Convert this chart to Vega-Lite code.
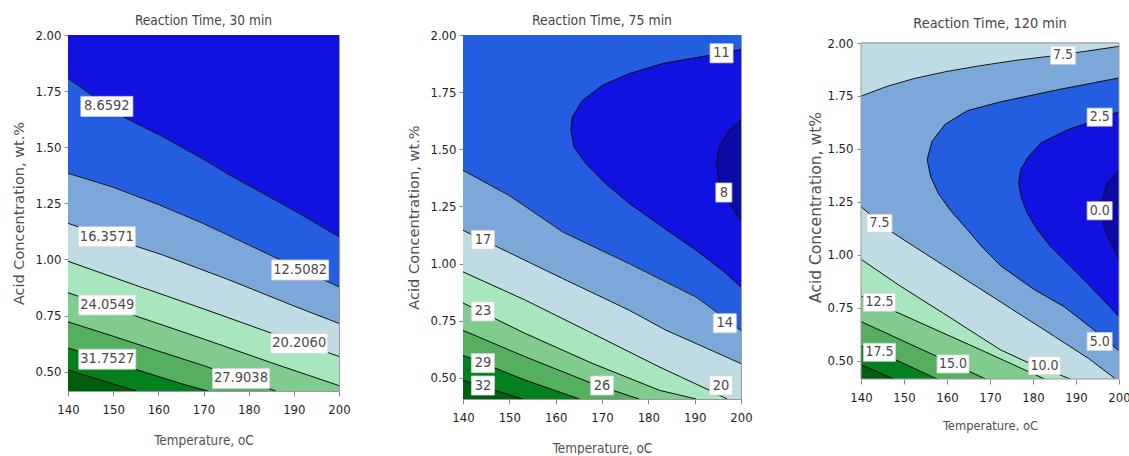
{
"$schema": "https://vega.github.io/schema/vega-lite/v6.json",
"background": "white",
"padding": {"left": 11, "top": 13, "right": 0, "bottom": 0},
"spacing": 55,
"resolve": {"scale": {"x": "independent", "y": "independent"}},
"config": {
  "view": {"stroke": "#9a9a9a", "strokeWidth": 1},
  "axis": {"grid": false, "domain": false, "tickColor": "#888", "labelFont": "DejaVu Sans Condensed", "labelFontSize": 13, "labelColor": "#1e1e1e", "titleColor": "#505050", "titleFontWeight": "normal"},
  "axisX": {"tickSize": 5, "labelPadding": 7, "labelFlush": false, "titleFont": "DejaVu Sans Condensed", "titleFontSize": 13.4},
  "axisY": {"tickSize": 4, "labelPadding": 3, "titleFont": "DejaVu Sans", "titleFontSize": 14.5, "titlePadding": 8},
  "title": {"font": "DejaVu Sans Condensed", "fontSize": 13.6, "fontWeight": "normal", "color": "#454545", "anchor": "middle"}
},
"datasets": {
  "p1": [
    {"g":"a0","b":"b1","i":0,"x":140,"y":0.414,"c":0},{"g":"a0","b":"b1","i":1,"x":200,"y":0.414,"c":0},{"g":"a0","b":"b1","i":2,"x":200,"y":2,"c":0},{"g":"a0","b":"b1","i":3,"x":140,"y":2,"c":0},
    {"g":"a1","b":"b2","i":0,"x":140,"y":1.807,"c":1},{"g":"a1","b":"b2","i":1,"x":146,"y":1.722,"c":1},{"g":"a1","b":"b2","i":2,"x":152.2,"y":1.636,"c":1},{"g":"a1","b":"b2","i":3,"x":161,"y":1.547,"c":1},{"g":"a1","b":"b2","i":4,"x":168.4,"y":1.465,"c":1},{"g":"a1","b":"b2","i":5,"x":175.8,"y":1.376,"c":1},{"g":"a1","b":"b2","i":6,"x":183.1,"y":1.295,"c":1},{"g":"a1","b":"b2","i":7,"x":190.5,"y":1.213,"c":1},{"g":"a1","b":"b2","i":8,"x":200,"y":1.101,"c":1},{"g":"a1","b":"b2","i":9,"x":200,"y":0.414,"c":0},{"g":"a1","b":"b2","i":10,"x":140,"y":0.414,"c":0},
    {"g":"a2","b":"b3","i":0,"x":140,"y":1.384,"c":1},{"g":"a2","b":"b3","i":1,"x":150,"y":1.322,"c":1},{"g":"a2","b":"b3","i":2,"x":160,"y":1.245,"c":1},{"g":"a2","b":"b3","i":3,"x":170,"y":1.16,"c":1},{"g":"a2","b":"b3","i":4,"x":180,"y":1.065,"c":1},{"g":"a2","b":"b3","i":5,"x":190,"y":0.97,"c":1},{"g":"a2","b":"b3","i":6,"x":200,"y":0.878,"c":1},{"g":"a2","b":"b3","i":7,"x":200,"y":0.414,"c":0},{"g":"a2","b":"b3","i":8,"x":140,"y":0.414,"c":0},
    {"g":"a3","b":"b4","i":0,"x":140,"y":1.161,"c":1},{"g":"a3","b":"b4","i":1,"x":150,"y":1.092,"c":1},{"g":"a3","b":"b4","i":2,"x":161,"y":1.02,"c":1},{"g":"a3","b":"b4","i":3,"x":175.8,"y":0.908,"c":1},{"g":"a3","b":"b4","i":4,"x":190.5,"y":0.789,"c":1},{"g":"a3","b":"b4","i":5,"x":200,"y":0.715,"c":1},{"g":"a3","b":"b4","i":6,"x":200,"y":0.414,"c":0},{"g":"a3","b":"b4","i":7,"x":140,"y":0.414,"c":0},
    {"g":"a4","b":"b5","i":0,"x":140,"y":0.992,"c":1},{"g":"a4","b":"b5","i":1,"x":155,"y":0.885,"c":1},{"g":"a4","b":"b5","i":2,"x":170,"y":0.78,"c":1},{"g":"a4","b":"b5","i":3,"x":185,"y":0.672,"c":1},{"g":"a4","b":"b5","i":4,"x":200,"y":0.568,"c":1},{"g":"a4","b":"b5","i":5,"x":200,"y":0.414,"c":0},{"g":"a4","b":"b5","i":6,"x":140,"y":0.414,"c":0},
    {"g":"a5","b":"b6","i":0,"x":140,"y":0.852,"c":1},{"g":"a5","b":"b6","i":1,"x":155,"y":0.748,"c":1},{"g":"a5","b":"b6","i":2,"x":170,"y":0.646,"c":1},{"g":"a5","b":"b6","i":3,"x":185,"y":0.54,"c":1},{"g":"a5","b":"b6","i":4,"x":200,"y":0.438,"c":1},{"g":"a5","b":"b6","i":5,"x":200,"y":0.414,"c":0},{"g":"a5","b":"b6","i":6,"x":140,"y":0.414,"c":0},
    {"g":"a6","b":"b7","i":0,"x":140,"y":0.722,"c":1},{"g":"a6","b":"b7","i":1,"x":150,"y":0.658,"c":1},{"g":"a6","b":"b7","i":2,"x":160,"y":0.592,"c":1},{"g":"a6","b":"b7","i":3,"x":170,"y":0.527,"c":1},{"g":"a6","b":"b7","i":4,"x":180,"y":0.457,"c":1},{"g":"a6","b":"b7","i":5,"x":186,"y":0.414,"c":1},{"g":"a6","b":"b7","i":6,"x":140,"y":0.414,"c":0},
    {"g":"a7","b":"b8","i":0,"x":140,"y":0.606,"c":1},{"g":"a7","b":"b8","i":1,"x":155,"y":0.51,"c":1},{"g":"a7","b":"b8","i":2,"x":165,"y":0.447,"c":1},{"g":"a7","b":"b8","i":3,"x":170.9,"y":0.414,"c":1},{"g":"a7","b":"b8","i":4,"x":140,"y":0.414,"c":0},
    {"g":"a8","b":"b9","i":0,"x":140,"y":0.507,"c":1},{"g":"a8","b":"b9","i":1,"x":155.1,"y":0.414,"c":1},{"g":"a8","b":"b9","i":2,"x":140,"y":0.414,"c":0}
  ],
  "p1l": [
    {"x":148.6,"y":1.682,"t":"8.6592"},{"x":148.6,"y":1.101,"t":"16.3571"},{"x":191.4,"y":0.953,"t":"12.5082"},{"x":148.7,"y":0.797,"t":"24.0549"},{"x":191.2,"y":0.626,"t":"20.2060"},{"x":148.7,"y":0.556,"t":"31.7527"},{"x":178.3,"y":0.47,"t":"27.9038"}
  ],
  "p2": [
    {"g":"c0","b":"b2","i":0,"x":140,"y":0.408,"c":0},{"g":"c0","b":"b2","i":1,"x":200,"y":0.408,"c":0},{"g":"c0","b":"b2","i":2,"x":200,"y":2,"c":0},{"g":"c0","b":"b2","i":3,"x":140,"y":2,"c":0},
    {"g":"c1","b":"b1","i":0,"x":200,"y":1.936,"c":1},{"g":"c1","b":"b1","i":1,"x":193.2,"y":1.911,"c":1},{"g":"c1","b":"b1","i":2,"x":183.1,"y":1.875,"c":1},{"g":"c1","b":"b1","i":3,"x":175.9,"y":1.831,"c":1},{"g":"c1","b":"b1","i":4,"x":170.1,"y":1.78,"c":1},{"g":"c1","b":"b1","i":5,"x":165.8,"y":1.714,"c":1},{"g":"c1","b":"b1","i":6,"x":163.6,"y":1.641,"c":1},{"g":"c1","b":"b1","i":7,"x":163.3,"y":1.583,"c":1},{"g":"c1","b":"b1","i":8,"x":164,"y":1.51,"c":1},{"g":"c1","b":"b1","i":9,"x":166.5,"y":1.438,"c":1},{"g":"c1","b":"b1","i":10,"x":170.8,"y":1.35,"c":1},{"g":"c1","b":"b1","i":11,"x":175.9,"y":1.263,"c":1},{"g":"c1","b":"b1","i":12,"x":183.1,"y":1.16,"c":1},{"g":"c1","b":"b1","i":13,"x":190.3,"y":1.059,"c":1},{"g":"c1","b":"b1","i":14,"x":196,"y":0.971,"c":1},{"g":"c1","b":"b1","i":15,"x":200,"y":0.898,"c":1},
    {"g":"c2","b":"b0","i":0,"x":200,"y":1.627,"c":1},{"g":"c2","b":"b0","i":1,"x":197.5,"y":1.583,"c":1},{"g":"c2","b":"b0","i":2,"x":195.3,"y":1.51,"c":1},{"g":"c2","b":"b0","i":3,"x":194.7,"y":1.438,"c":1},{"g":"c2","b":"b0","i":4,"x":195.3,"y":1.365,"c":1},{"g":"c2","b":"b0","i":5,"x":196.8,"y":1.29,"c":1},{"g":"c2","b":"b0","i":6,"x":198.9,"y":1.219,"c":1},{"g":"c2","b":"b0","i":7,"x":200,"y":1.19,"c":1},
    {"g":"c3","b":"b3","i":0,"x":140,"y":1.408,"c":1},{"g":"c3","b":"b3","i":1,"x":150,"y":1.298,"c":1},{"g":"c3","b":"b3","i":2,"x":161.5,"y":1.139,"c":1},{"g":"c3","b":"b3","i":3,"x":175.9,"y":1.0,"c":1},{"g":"c3","b":"b3","i":4,"x":190.3,"y":0.854,"c":1},{"g":"c3","b":"b3","i":5,"x":195,"y":0.785,"c":1},{"g":"c3","b":"b3","i":6,"x":200,"y":0.708,"c":1},{"g":"c3","b":"b3","i":7,"x":200,"y":0.408,"c":0},{"g":"c3","b":"b3","i":8,"x":140,"y":0.408,"c":0},
    {"g":"c4","b":"b4","i":0,"x":140,"y":1.146,"c":1},{"g":"c4","b":"b4","i":1,"x":150,"y":1.048,"c":1},{"g":"c4","b":"b4","i":2,"x":161.5,"y":0.935,"c":1},{"g":"c4","b":"b4","i":3,"x":175.9,"y":0.796,"c":1},{"g":"c4","b":"b4","i":4,"x":183.8,"y":0.709,"c":1},{"g":"c4","b":"b4","i":5,"x":200,"y":0.563,"c":1},{"g":"c4","b":"b4","i":6,"x":200,"y":0.408,"c":0},{"g":"c4","b":"b4","i":7,"x":140,"y":0.408,"c":0},
    {"g":"c5","b":"b5","i":0,"x":140,"y":0.964,"c":1},{"g":"c5","b":"b5","i":1,"x":153.5,"y":0.84,"c":1},{"g":"c5","b":"b5","i":2,"x":168,"y":0.694,"c":1},{"g":"c5","b":"b5","i":3,"x":182.4,"y":0.548,"c":1},{"g":"c5","b":"b5","i":4,"x":193.2,"y":0.446,"c":1},{"g":"c5","b":"b5","i":5,"x":197,"y":0.408,"c":1},{"g":"c5","b":"b5","i":6,"x":140,"y":0.408,"c":0},
    {"g":"c6","b":"b6","i":0,"x":140,"y":0.828,"c":1},{"g":"c6","b":"b6","i":1,"x":153.5,"y":0.694,"c":1},{"g":"c6","b":"b6","i":2,"x":168,"y":0.563,"c":1},{"g":"c6","b":"b6","i":3,"x":182.4,"y":0.446,"c":1},{"g":"c6","b":"b6","i":4,"x":190.3,"y":0.408,"c":1},{"g":"c6","b":"b6","i":5,"x":140,"y":0.408,"c":0},
    {"g":"c7","b":"b7","i":0,"x":140,"y":0.708,"c":1},{"g":"c7","b":"b7","i":1,"x":153.5,"y":0.592,"c":1},{"g":"c7","b":"b7","i":2,"x":168,"y":0.475,"c":1},{"g":"c7","b":"b7","i":3,"x":178,"y":0.408,"c":1},{"g":"c7","b":"b7","i":4,"x":140,"y":0.408,"c":0},
    {"g":"c8","b":"b8","i":0,"x":140,"y":0.599,"c":1},{"g":"c8","b":"b8","i":1,"x":153.5,"y":0.49,"c":1},{"g":"c8","b":"b8","i":2,"x":165.1,"y":0.408,"c":1},{"g":"c8","b":"b8","i":3,"x":140,"y":0.408,"c":0},
    {"g":"c9","b":"b9","i":0,"x":140,"y":0.49,"c":1},{"g":"c9","b":"b9","i":1,"x":152.8,"y":0.408,"c":1},{"g":"c9","b":"b9","i":2,"x":140,"y":0.408,"c":0}
  ],
  "p2l": [
    {"x":195.8,"y":1.92,"t":"11"},{"x":196.3,"y":1.311,"t":"8"},{"x":196.5,"y":0.739,"t":"14"},{"x":144.3,"y":1.104,"t":"17"},{"x":144.3,"y":0.791,"t":"23"},{"x":144.3,"y":0.565,"t":"29"},{"x":144.3,"y":0.467,"t":"32"},{"x":170,"y":0.467,"t":"26"},{"x":195.7,"y":0.467,"t":"20"}
  ],
  "p3": [
    {"g":"e0","b":"b3","i":0,"x":140,"y":0.414,"c":0},{"g":"e0","b":"b3","i":1,"x":200,"y":0.414,"c":0},{"g":"e0","b":"b3","i":2,"x":200,"y":2,"c":0},{"g":"e0","b":"b3","i":3,"x":140,"y":2,"c":0},
    {"g":"e1","b":"b4","i":0,"x":140,"y":1.749,"c":1},{"g":"e1","b":"b4","i":1,"x":146,"y":1.795,"c":1},{"g":"e1","b":"b4","i":2,"x":152.3,"y":1.832,"c":1},{"g":"e1","b":"b4","i":3,"x":160,"y":1.866,"c":1},{"g":"e1","b":"b4","i":4,"x":167.8,"y":1.893,"c":1},{"g":"e1","b":"b4","i":5,"x":176,"y":1.918,"c":1},{"g":"e1","b":"b4","i":6,"x":184.1,"y":1.938,"c":1},{"g":"e1","b":"b4","i":7,"x":192,"y":1.96,"c":1},{"g":"e1","b":"b4","i":8,"x":200,"y":1.984,"c":1},{"g":"e1","b":"b4","i":9,"x":200,"y":2,"c":0},{"g":"e1","b":"b4","i":10,"x":140,"y":2,"c":0},
    {"g":"e2","b":"b2","i":0,"x":200,"y":1.835,"c":1},{"g":"e2","b":"b2","i":1,"x":186,"y":1.78,"c":1},{"g":"e2","b":"b2","i":2,"x":172.4,"y":1.722,"c":1},{"g":"e2","b":"b2","i":3,"x":164.7,"y":1.68,"c":1},{"g":"e2","b":"b2","i":4,"x":159.5,"y":1.615,"c":1},{"g":"e2","b":"b2","i":5,"x":156.5,"y":1.535,"c":1},{"g":"e2","b":"b2","i":6,"x":155.4,"y":1.45,"c":1},{"g":"e2","b":"b2","i":7,"x":156.2,"y":1.37,"c":1},{"g":"e2","b":"b2","i":8,"x":158,"y":1.29,"c":1},{"g":"e2","b":"b2","i":9,"x":160.8,"y":1.21,"c":1},{"g":"e2","b":"b2","i":10,"x":164.5,"y":1.125,"c":1},{"g":"e2","b":"b2","i":11,"x":168.5,"y":1.03,"c":1},{"g":"e2","b":"b2","i":12,"x":172.4,"y":0.95,"c":1},{"g":"e2","b":"b2","i":13,"x":180,"y":0.84,"c":1},{"g":"e2","b":"b2","i":14,"x":187.2,"y":0.756,"c":1},{"g":"e2","b":"b2","i":15,"x":193,"y":0.665,"c":1},{"g":"e2","b":"b2","i":16,"x":200,"y":0.548,"c":1},
    {"g":"e3","b":"b1","i":0,"x":200,"y":1.675,"c":1},{"g":"e3","b":"b1","i":1,"x":188,"y":1.589,"c":1},{"g":"e3","b":"b1","i":2,"x":182,"y":1.53,"c":1},{"g":"e3","b":"b1","i":3,"x":179,"y":1.465,"c":1},{"g":"e3","b":"b1","i":4,"x":177.1,"y":1.4,"c":1},{"g":"e3","b":"b1","i":5,"x":176.7,"y":1.337,"c":1},{"g":"e3","b":"b1","i":6,"x":177.3,"y":1.27,"c":1},{"g":"e3","b":"b1","i":7,"x":178.7,"y":1.196,"c":1},{"g":"e3","b":"b1","i":8,"x":181,"y":1.12,"c":1},{"g":"e3","b":"b1","i":9,"x":184.1,"y":1.039,"c":1},{"g":"e3","b":"b1","i":10,"x":188,"y":0.96,"c":1},{"g":"e3","b":"b1","i":11,"x":191.9,"y":0.882,"c":1},{"g":"e3","b":"b1","i":12,"x":196,"y":0.795,"c":1},{"g":"e3","b":"b1","i":13,"x":200,"y":0.709,"c":1},
    {"g":"e4","b":"b0","i":0,"x":200,"y":1.4,"c":1},{"g":"e4","b":"b0","i":1,"x":197.3,"y":1.337,"c":1},{"g":"e4","b":"b0","i":2,"x":196.1,"y":1.259,"c":1},{"g":"e4","b":"b0","i":3,"x":196.5,"y":1.133,"c":1},{"g":"e4","b":"b0","i":4,"x":198.1,"y":1.055,"c":1},{"g":"e4","b":"b0","i":5,"x":200,"y":0.976,"c":1},
    {"g":"e5","b":"b4","i":0,"x":140,"y":1.227,"c":1},{"g":"e5","b":"b4","i":1,"x":147,"y":1.11,"c":1},{"g":"e5","b":"b4","i":2,"x":155,"y":1.005,"c":1},{"g":"e5","b":"b4","i":3,"x":165,"y":0.875,"c":1},{"g":"e5","b":"b4","i":4,"x":175,"y":0.745,"c":1},{"g":"e5","b":"b4","i":5,"x":185,"y":0.615,"c":1},{"g":"e5","b":"b4","i":6,"x":193,"y":0.51,"c":1},{"g":"e5","b":"b4","i":7,"x":199.2,"y":0.414,"c":1},{"g":"e5","b":"b4","i":8,"x":140,"y":0.414,"c":0},
    {"g":"e6","b":"b5","i":0,"x":140,"y":0.979,"c":1},{"g":"e6","b":"b5","i":1,"x":149.1,"y":0.853,"c":1},{"g":"e6","b":"b5","i":2,"x":160.8,"y":0.703,"c":1},{"g":"e6","b":"b5","i":3,"x":172.4,"y":0.552,"c":1},{"g":"e6","b":"b5","i":4,"x":179,"y":0.49,"c":1},{"g":"e6","b":"b5","i":5,"x":188.7,"y":0.414,"c":1},{"g":"e6","b":"b5","i":6,"x":140,"y":0.414,"c":0},
    {"g":"e7","b":"b6","i":0,"x":140,"y":0.806,"c":1},{"g":"e7","b":"b6","i":1,"x":148,"y":0.732,"c":1},{"g":"e7","b":"b6","i":2,"x":167.8,"y":0.552,"c":1},{"g":"e7","b":"b6","i":3,"x":182.7,"y":0.414,"c":1},{"g":"e7","b":"b6","i":4,"x":140,"y":0.414,"c":0},
    {"g":"e8","b":"b7","i":0,"x":140,"y":0.685,"c":1},{"g":"e8","b":"b7","i":1,"x":157.8,"y":0.519,"c":1},{"g":"e8","b":"b7","i":2,"x":169,"y":0.414,"c":1},{"g":"e8","b":"b7","i":3,"x":140,"y":0.414,"c":0},
    {"g":"e9","b":"b8","i":0,"x":140,"y":0.57,"c":1},{"g":"e9","b":"b8","i":1,"x":148,"y":0.505,"c":1},{"g":"e9","b":"b8","i":2,"x":157.7,"y":0.414,"c":1},{"g":"e9","b":"b8","i":3,"x":140,"y":0.414,"c":0},
    {"g":"f0","b":"b9","i":0,"x":140,"y":0.481,"c":1},{"g":"f0","b":"b9","i":1,"x":147.6,"y":0.414,"c":1},{"g":"f0","b":"b9","i":2,"x":140,"y":0.414,"c":0}
  ],
  "p3l": [
    {"x":187,"y":1.942,"t":"7.5"},{"x":195.5,"y":1.65,"t":"2.5"},{"x":195.5,"y":1.208,"t":"0.0"},{"x":144.3,"y":1.149,"t":"7.5"},{"x":144.3,"y":0.776,"t":"12.5"},{"x":195.5,"y":0.591,"t":"5.0"},{"x":144.3,"y":0.54,"t":"17.5"},{"x":161.4,"y":0.485,"t":"15.0"},{"x":182.7,"y":0.477,"t":"10.0"}
  ]
},
"hconcat": [
  {
    "width": 271, "height": 356,
    "title": {"text": "Reaction Time, 30 min", "offset": 1},
    "layer": [
      {"data": {"name": "p1"}, "mark": {"type": "line", "strokeWidth": 0.8, "clip": true},
       "encoding": {
         "x": {"field": "x", "type": "quantitative", "scale": {"domain": [140, 200], "nice": false, "zero": false}, "axis": {"title": "Temperature, oC", "values": [140,150,160,170,180,190,200], "titlePadding": 17}},
         "y": {"field": "y", "type": "quantitative", "scale": {"domain": [0.414, 2], "nice": false, "zero": false}, "axis": {"title": "Acid Concentration, wt.%", "values": [0.5,0.75,1,1.25,1.5,1.75,2], "format": ".2f"}},
         "order": {"field": "i", "type": "quantitative"},
         "detail": {"field": "g", "type": "nominal"},
         "fill": {"field": "b", "type": "nominal", "scale": {"domain": ["b0","b1","b2","b3","b4","b5","b6","b7","b8","b9"], "range": ["#0b0ba6","#1212e0","#235ee0","#7ca7d9","#bfdbe4","#a8e6be","#80cc8f","#54af5e","#04801f","#005f0e"]}, "legend": null},
         "stroke": {"field": "b", "type": "nominal", "scale": {"domain": ["b0","b1","b2","b3","b4","b5","b6","b7","b8","b9"], "range": ["#0b0ba6","#1212e0","#235ee0","#7ca7d9","#bfdbe4","#a8e6be","#80cc8f","#54af5e","#04801f","#005f0e"]}, "legend": null}
       }},
      {"data": {"name": "p1"}, "transform": [{"filter": "datum.c == 1"}], "mark": {"type": "line", "color": "#111", "strokeWidth": 1, "clip": true},
       "encoding": {"x": {"field": "x", "type": "quantitative"}, "y": {"field": "y", "type": "quantitative"}, "order": {"field": "i", "type": "quantitative"}, "detail": {"field": "g", "type": "nominal"}}},
      {"data": {"name": "p1l"}, "transform": [{"filter": "length(datum.t) == 6"}], "mark": {"type": "rect", "width": 52, "height": 20, "fill": "white", "stroke": "#d4d4d4", "strokeWidth": 0.8},
       "encoding": {"x": {"field": "x", "type": "quantitative"}, "y": {"field": "y", "type": "quantitative"}}},
      {"data": {"name": "p1l"}, "transform": [{"filter": "length(datum.t) == 7"}], "mark": {"type": "rect", "width": 57, "height": 20, "fill": "white", "stroke": "#d4d4d4", "strokeWidth": 0.8},
       "encoding": {"x": {"field": "x", "type": "quantitative"}, "y": {"field": "y", "type": "quantitative"}}},
      {"data": {"name": "p1l"}, "mark": {"type": "text", "font": "DejaVu Sans Condensed", "fontSize": 14.5, "color": "#4a4a4a", "baseline": "middle", "align": "center"},
       "encoding": {"x": {"field": "x", "type": "quantitative"}, "y": {"field": "y", "type": "quantitative"}, "text": {"field": "t", "type": "nominal"}}}
    ]
  },
  {
    "width": 278, "height": 364,
    "title": {"text": "Reaction Time, 75 min", "offset": 1, "fontSize": 13.9},
    "layer": [
      {"data": {"name": "p2"}, "mark": {"type": "line", "strokeWidth": 0.8, "clip": true},
       "encoding": {
         "x": {"field": "x", "type": "quantitative", "scale": {"domain": [140, 200], "nice": false, "zero": false}, "axis": {"title": "Temperature, oC", "values": [140,150,160,170,180,190,200], "titlePadding": 17}},
         "y": {"field": "y", "type": "quantitative", "scale": {"domain": [0.408, 2], "nice": false, "zero": false}, "axis": {"title": "Acid Concentration, wt.%", "values": [0.5,0.75,1,1.25,1.5,1.75,2], "format": ".2f", "titleFontSize": 14.6}},
         "order": {"field": "i", "type": "quantitative"},
         "detail": {"field": "g", "type": "nominal"},
         "fill": {"field": "b", "type": "nominal", "scale": {"domain": ["b0","b1","b2","b3","b4","b5","b6","b7","b8","b9"], "range": ["#0b0ba6","#1212e0","#235ee0","#7ca7d9","#bfdbe4","#a8e6be","#80cc8f","#54af5e","#04801f","#005f0e"]}, "legend": null},
         "stroke": {"field": "b", "type": "nominal", "scale": {"domain": ["b0","b1","b2","b3","b4","b5","b6","b7","b8","b9"], "range": ["#0b0ba6","#1212e0","#235ee0","#7ca7d9","#bfdbe4","#a8e6be","#80cc8f","#54af5e","#04801f","#005f0e"]}, "legend": null}
       }},
      {"data": {"name": "p2"}, "transform": [{"filter": "datum.c == 1"}], "mark": {"type": "line", "color": "#111", "strokeWidth": 1, "clip": true},
       "encoding": {"x": {"field": "x", "type": "quantitative"}, "y": {"field": "y", "type": "quantitative"}, "order": {"field": "i", "type": "quantitative"}, "detail": {"field": "g", "type": "nominal"}}},
      {"data": {"name": "p2l"}, "transform": [{"filter": "length(datum.t) == 1"}], "mark": {"type": "rect", "width": 16, "height": 19, "fill": "white", "stroke": "#d4d4d4", "strokeWidth": 0.8},
       "encoding": {"x": {"field": "x", "type": "quantitative"}, "y": {"field": "y", "type": "quantitative"}}},
      {"data": {"name": "p2l"}, "transform": [{"filter": "length(datum.t) == 2"}], "mark": {"type": "rect", "width": 23, "height": 19, "fill": "white", "stroke": "#d4d4d4", "strokeWidth": 0.8},
       "encoding": {"x": {"field": "x", "type": "quantitative"}, "y": {"field": "y", "type": "quantitative"}}},
      {"data": {"name": "p2l"}, "mark": {"type": "text", "font": "DejaVu Sans Condensed", "fontSize": 14.5, "color": "#4a4a4a", "baseline": "middle", "align": "center"},
       "encoding": {"x": {"field": "x", "type": "quantitative"}, "y": {"field": "y", "type": "quantitative"}, "text": {"field": "t", "type": "nominal"}}}
    ]
  },
  {
    "width": 258, "height": 344,
    "view": {"stroke": null},
    "title": {"text": "Reaction Time, 120 min", "offset": 4, "fontSize": 14.4},
    "layer": [
      {"data": {"name": "p3"}, "mark": {"type": "line", "strokeWidth": 0.8, "clip": true},
       "encoding": {
         "x": {"field": "x", "type": "quantitative", "scale": {"domain": [140, 200], "nice": false, "zero": false}, "axis": {"title": "Temperature, oC", "values": [140,150,160,170,180,190,200], "titlePadding": 15, "titleFontSize": 12.8}},
         "y": {"field": "y", "type": "quantitative", "scale": {"domain": [0.414, 2.0378], "nice": false, "zero": false}, "axis": {"title": "Acid Concentration, wt%", "values": [0.5,0.75,1,1.25,1.5,1.75,2], "format": ".2f", "titleFontSize": 15.5, "titlePadding": 3, "labelPadding": 4}},
         "order": {"field": "i", "type": "quantitative"},
         "detail": {"field": "g", "type": "nominal"},
         "fill": {"field": "b", "type": "nominal", "scale": {"domain": ["b0","b1","b2","b3","b4","b5","b6","b7","b8","b9"], "range": ["#0b0ba6","#1212e0","#235ee0","#7ca7d9","#bfdbe4","#a8e6be","#80cc8f","#54af5e","#04801f","#005f0e"]}, "legend": null},
         "stroke": {"field": "b", "type": "nominal", "scale": {"domain": ["b0","b1","b2","b3","b4","b5","b6","b7","b8","b9"], "range": ["#0b0ba6","#1212e0","#235ee0","#7ca7d9","#bfdbe4","#a8e6be","#80cc8f","#54af5e","#04801f","#005f0e"]}, "legend": null}
       }},
      {"data": {"name": "p3"}, "transform": [{"filter": "datum.c == 1"}], "mark": {"type": "line", "color": "#111", "strokeWidth": 1, "clip": true},
       "encoding": {"x": {"field": "x", "type": "quantitative"}, "y": {"field": "y", "type": "quantitative"}, "order": {"field": "i", "type": "quantitative"}, "detail": {"field": "g", "type": "nominal"}}},
      {"data": {"values": [{}]}, "mark": {"type": "rect", "filled": false, "color": "#9a9a9a", "strokeWidth": 1},
       "encoding": {"x": {"datum": 140, "type": "quantitative"}, "x2": {"datum": 200}, "y": {"datum": 0.414, "type": "quantitative"}, "y2": {"datum": 2}}},
      {"data": {"name": "p3l"}, "transform": [{"filter": "length(datum.t) == 3"}], "mark": {"type": "rect", "width": 25, "height": 18, "fill": "white", "stroke": "#d4d4d4", "strokeWidth": 0.8},
       "encoding": {"x": {"field": "x", "type": "quantitative"}, "y": {"field": "y", "type": "quantitative"}}},
      {"data": {"name": "p3l"}, "transform": [{"filter": "length(datum.t) == 4"}], "mark": {"type": "rect", "width": 32, "height": 18, "fill": "white", "stroke": "#d4d4d4", "strokeWidth": 0.8},
       "encoding": {"x": {"field": "x", "type": "quantitative"}, "y": {"field": "y", "type": "quantitative"}}},
      {"data": {"name": "p3l"}, "mark": {"type": "text", "font": "DejaVu Sans Condensed", "fontSize": 14, "color": "#4a4a4a", "baseline": "middle", "align": "center"},
       "encoding": {"x": {"field": "x", "type": "quantitative"}, "y": {"field": "y", "type": "quantitative"}, "text": {"field": "t", "type": "nominal"}}}
    ]
  }
]
}
